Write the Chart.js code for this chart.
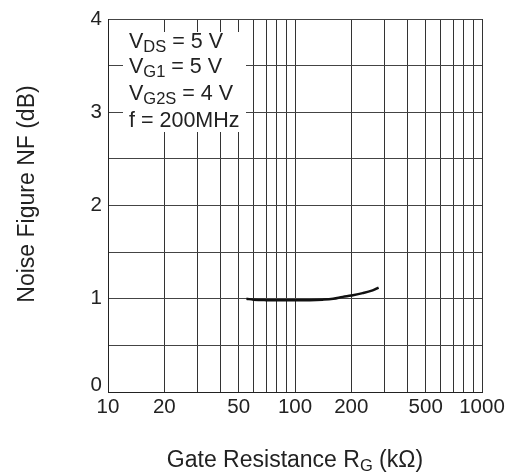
<!DOCTYPE html>
<html>
<head>
<meta charset="utf-8">
<script src="https://cdn.jsdelivr.net/npm/chart.js@4.4.0/dist/chart.umd.min.js"></script>
<style>
  body { margin: 0; background: #fff; }
  #wrap { width: 515px; height: 473px; }
</style>
</head>
<body>
<div id="wrap"><canvas id="nfChart" width="515" height="473"></canvas></div>
<script>
// values
var gateRes = [55, 60, 70, 80, 100, 120, 140, 160, 180, 200, 230, 260, 280];
var noiseFig = [1.0, 0.99, 0.985, 0.985, 0.985, 0.985, 0.99, 1.0, 1.02, 1.035, 1.06, 1.09, 1.12];

var xLabels = [10, 20, 50, 100, 200, 500, 1000];
var xGrid = [10, 20, 30, 40, 50, 60, 70, 80, 90, 100, 200, 300, 400, 500, 600, 700, 800, 900, 1000];

// condition lines, each one is [text, isSubscript] parts
var condLines = [
  [["V", false], ["DS", true], [" = 5 V", false]],
  [["V", false], ["G1", true], [" = 5 V", false]],
  [["V", false], ["G2S", true], [" = 4 V", false]],
  [["f = 200MHz", false]]
];

var fontFam = "'Liberation Sans', Arial, sans-serif";
var txtColor = "#222";

var points = [];
for (var i = 0; i < gateRes.length; i++) {
  points.push({ x: gateRes[i], y: noiseFig[i] });
}

function drawParts(c, parts, x, y, size, subSize) {
  for (const p of parts) {
    if (p[1]) {
      c.font = subSize + "px " + fontFam;
      c.fillText(p[0], x, y + 4);
    } else {
      c.font = size + "px " + fontFam;
      c.fillText(p[0], x, y);
    }
    x += c.measureText(p[0]).width;
  }
}

function partsWidth(c, parts, size, subSize) {
  var w = 0;
  for (const p of parts) {
    c.font = (p[1] ? subSize : size) + "px " + fontFam;
    w += c.measureText(p[0]).width;
  }
  return w;
}

var textPlugin = {
  id: "textPlugin",
  beforeDatasetsDraw: function(chart) {
    var c = chart.ctx;
    var a = chart.chartArea;
    // white box over the grid for the test conditions
    var bx = a.left + 15, by = a.top + 13;
    c.save();
    c.fillStyle = "#fff";
    c.fillRect(bx, by, 123, 100);
    c.fillStyle = txtColor;
    c.textBaseline = "alphabetic";
    var base = [29, 54, 81, 108];
    for (var k = 0; k < condLines.length; k++) {
      drawParts(c, condLines[k], bx + 6, a.top + base[k], 21.5, 16.5);
    }
    c.restore();
  },
  afterDraw: function(chart) {
    var c = chart.ctx;
    var a = chart.chartArea;
    c.save();
    c.fillStyle = txtColor;
    c.textBaseline = "alphabetic";

    // x axis title with subscript
    var title = [["Gate Resistance R", false], ["G", true], [" (k\u03A9)", false]];
    var w = partsWidth(c, title, 23, 16.5);
    drawParts(c, title, (a.left + a.right) / 2 - w / 2, chart.height - 6, 23, 16.5);

    // y axis title
    c.translate(a.left - 74, a.top + 175);
    c.rotate(-Math.PI / 2);
    c.textAlign = "center";
    c.font = "23px " + fontFam;
    c.fillText("Noise Figure NF (dB)", 0, 0);
    c.restore();
  }
};

var ctx = document.getElementById("nfChart").getContext("2d");

var myChart = new Chart(ctx, {
  type: "line",
  data: {
    datasets: [{
      data: points,
      borderColor: "#111",
      borderWidth: 2.5,
      pointRadius: 0,
      tension: 0.4,
      fill: false
    }]
  },
  options: {
    responsive: false,
    animation: false,
    layout: { padding: { top: 19, right: 33, left: 0, bottom: 0 } },
    plugins: {
      legend: { display: false },
      tooltip: { enabled: false }
    },
    scales: {
      x: {
        type: "logarithmic",
        min: 10,
        max: 1000,
        afterBuildTicks: function(scale) {
          scale.ticks = xGrid.map(function(v) { return { value: v }; });
        },
        afterFit: function(scale) { scale.height = 81; },
        ticks: {
          autoSkip: false,
          maxRotation: 0,
          padding: 3,
          color: txtColor,
          font: { family: fontFam, size: 20.5 },
          callback: function(v) {
            return xLabels.indexOf(v) >= 0 ? String(v) : "";
          }
        },
        grid: { color: "#333", lineWidth: 1, drawTicks: false },
        border: { color: "#222", width: 1 }
      },
      y: {
        min: 0,
        max: 4,
        afterFit: function(scale) { scale.width = 108; },
        ticks: {
          stepSize: 0.5,
          padding: 6,
          color: txtColor,
          // the "0" sits a little above its line, like in the original
          font: function(c) {
            if (c.index === 0) return { family: fontFam, size: 20.5, lineHeight: 0.63 };
            return { family: fontFam, size: 20.5 };
          },
          callback: function(v) {
            if (v === 0) return ["0", ""];
            return Number.isInteger(v) ? String(v) : "";
          }
        },
        grid: { color: "#444", lineWidth: 1, drawTicks: false },
        border: { color: "#222", width: 1 }
      }
    }
  },
  plugins: [textPlugin]
});
</script>
</body>
</html>
